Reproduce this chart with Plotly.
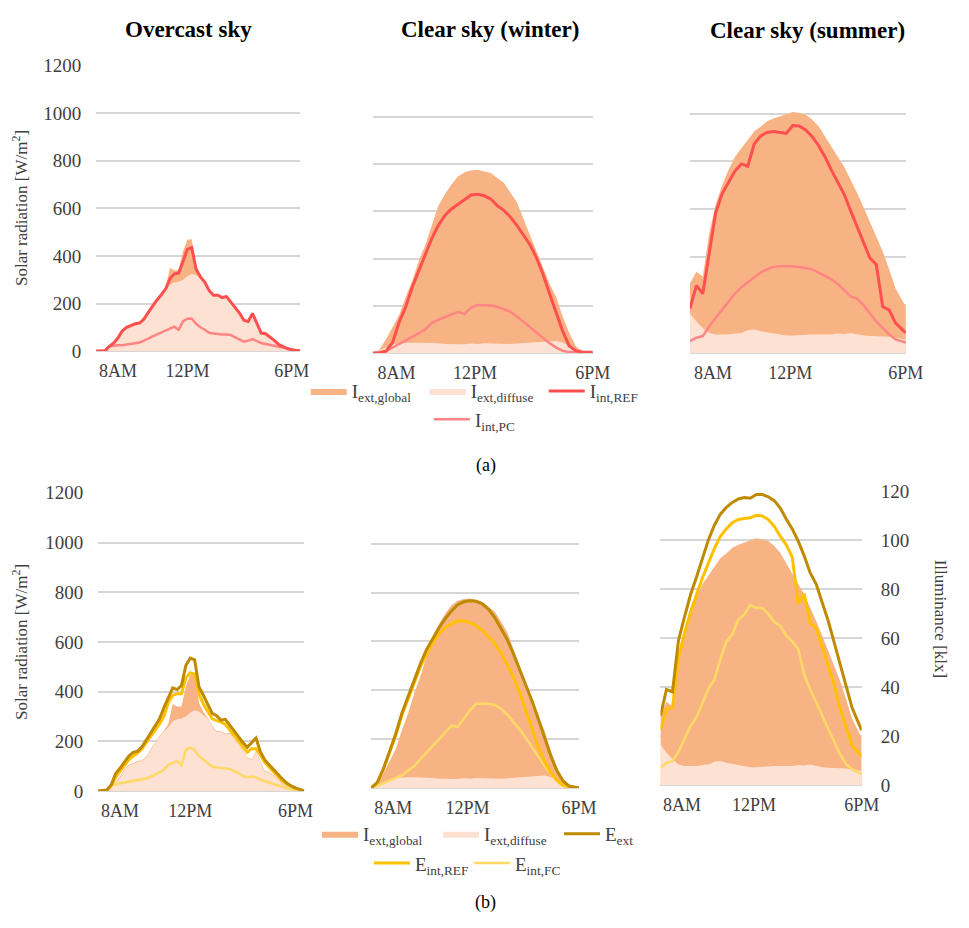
import plotly.graph_objects as go

W, H = 969, 928
SERIF = "Liberation Serif"

# ---------------- data ----------------
TIME_OVERCAST = ["06:45", "07:00", "07:15", "07:30", "07:45", "08:00", "08:15", "08:30", "08:45", "09:00",
                 "09:15", "09:30", "09:45", "10:00", "10:15", "10:30", "10:45", "11:00", "11:15", "11:30",
                 "11:45", "12:00", "12:15", "12:30", "12:45", "13:00", "13:15", "13:30", "13:45", "14:00",
                 "14:15", "14:30", "14:45", "15:00", "15:15", "15:30", "15:45", "16:00", "16:15", "16:30",
                 "16:45", "17:00", "17:15", "17:30", "17:45", "18:00", "18:15", "18:30"]
TIME_WINTER = ["06:48", "07:08", "07:28", "07:48", "08:08", "08:28", "08:48", "09:08", "09:28", "09:48",
               "10:08", "10:28", "10:48", "11:08", "11:28", "11:48", "12:08", "12:28", "12:48", "13:08",
               "13:28", "13:48", "14:08", "14:28", "14:48", "15:08", "15:28", "15:48", "16:08", "16:28",
               "16:48", "17:08", "17:28", "17:48", "18:00"]
TIME_SUMMER = ["06:48", "07:08", "07:28", "07:48", "08:08", "08:28", "08:48", "09:08", "09:28", "09:48",
               "10:08", "10:28", "10:48", "11:08", "11:28", "11:48", "12:08", "12:28", "12:48", "13:08",
               "13:28", "13:48", "14:08", "14:28", "14:48", "15:08", "15:28", "15:48", "16:08", "16:28",
               "16:48", "17:08", "17:28", "18:00"]

# overcast sky  [W/m2]
GLOBAL_OVERCAST = [0, 0, 2, 22, 36, 58, 90, 105, 112, 120, 123, 140, 168, 195, 220, 243, 268, 350, 340, 340,
                   420, 468, 470, 355, 318, 295, 262, 240, 240, 230, 234, 210, 187, 165, 135, 128, 163, 125, 80, 77,
                   64, 48, 31, 20, 13, 7, 3, 0]
DIFFUSE_OVERCAST = [0, 0, 0, 19, 33, 52, 87, 102, 109, 117, 120, 137, 165, 192, 217, 240, 255, 280, 288, 292,
                    300, 315, 325, 320, 305, 292, 259, 237, 237, 227, 231, 207, 184, 162, 132, 125, 160, 122, 77, 74,
                    61, 45, 28, 17, 10, 4, 1, 0]
I_REF_OVERCAST = [0, 0, 0, 20, 33, 55, 85, 100, 108, 115, 118, 135, 163, 190, 215, 237, 262, 305, 325, 328,
                  380, 428, 435, 345, 312, 290, 255, 235, 235, 225, 229, 205, 182, 160, 130, 125, 158, 120, 76, 73,
                  60, 45, 28, 18, 11, 6, 3, 0]
I_PC_OVERCAST = [0, 0, 0, 20, 24, 25, 25, 28, 33, 34, 36, 44, 54, 62, 70, 78, 88, 95, 103, 90,
                 125, 136, 137, 115, 100, 90, 77, 74, 71, 70, 70, 68, 58, 48, 40, 44, 50, 42, 34, 30,
                 25, 20, 18, 15, 10, 6, 3, 0]
# overcast sky  [klx]
E_EXT_OVERCAST = [0, 0.2, 0.4, 2.5, 7.0, 9.2, 11.5, 14.0, 15.5, 16.0, 17.8, 20.5, 23.2, 26.0, 29.0, 33.5, 37.5,
                  41.5, 40.8, 42.4, 50.5, 53.5, 52.8, 41.8, 38.5, 35.1, 31.2, 30.3, 28.5, 28.8, 26.4, 24.0, 21.8,
                  19.5, 17.6, 19.5, 21.3, 15.8, 12.5, 10.5, 8.5, 6.6, 4.8, 3.2, 2.0, 1.2, 0.6, 0]
E_REF_OVERCAST = [0, 0.1, 0.3, 2.0, 5.5, 8.0, 10.2, 12.5, 14.0, 15.2, 17.0, 19.5, 21.5, 24.0, 27.0, 30.0, 35.5,
                  38.5, 39.1, 39.1, 45.5, 47.6, 47.0, 39.0, 35.0, 32.0, 29.0, 28.3, 27.8, 26.8, 24.5, 22.5, 20.0,
                  18.0, 15.5, 17.0, 17.0, 14.5, 11.5, 9.5, 7.8, 5.8, 4.0, 2.8, 1.8, 1.0, 0.5, 0]
E_FC_OVERCAST = [0, 0.1, 0.3, 2.4, 2.7, 3.0, 3.2, 3.5, 3.8, 4.1, 4.4, 5.0, 5.7, 6.6, 7.5, 8.5, 10.5, 11.2,
                 12.0, 10.3, 16.5, 17.4, 16.5, 14.0, 12.6, 11.2, 9.8, 9.4, 9.2, 8.9, 8.8, 8.0, 7.2, 6.0, 5.5,
                 5.8, 5.5, 4.5, 3.8, 3.4, 2.8, 2.2, 1.5, 1.0, 0.6, 0.3, 0.1, 0]

# clear sky (winter)  [W/m2]
GLOBAL_WINTER = [0, 15, 58, 106, 160, 237, 306, 390, 458, 541, 624, 672, 714, 748, 766, 773, 776, 769, 762, 741,
                 721, 680, 638, 569, 500, 431, 362, 293, 237, 155, 86, 30, 5, 1, 0]
DIFFUSE_WINTER = [0, 12, 25, 35, 42, 44, 44, 44, 44, 42, 41, 38, 37, 37, 37, 40, 38, 41, 40, 38,
                  37, 38, 40, 42, 44, 44, 46, 49, 51, 45, 30, 10, 4, 2, 0]
I_REF_WINTER = [0, 1, 8, 45, 130, 195, 279, 348, 417, 486, 541, 583, 610, 631, 652, 669, 672, 666, 652, 624,
                604, 576, 541, 500, 459, 403, 334, 251, 168, 93, 30, 10, 5, 3, 3]
I_PC_WINTER = [0, 2, 8, 23, 37, 51, 65, 83, 100, 127, 141, 153, 162, 175, 165, 193, 203, 203, 201, 196,
               186, 175, 155, 132, 109, 86, 63, 42, 23, 10, 4, 3, 2, 1, 0]
# clear sky (winter)  [klx]
E_EXT_WINTER = [0, 2.2, 7.8, 15.0, 22.2, 30.7, 37.5, 44.7, 51.0, 56.8, 61.2, 65.6, 69.3, 72.4, 75.0, 76.2, 76.6,
                76.4, 75.3, 73.1, 69.7, 65.5, 60.8, 55.0, 48.7, 42.3, 35.7, 28.4, 20.8, 13.4, 7.2, 3.0, 0.8, 0.2, 0]
E_REF_WINTER = [0, 2.0, 7.5, 14.5, 21.5, 29.8, 36.5, 43.5, 49.7, 55.0, 59.5, 63.3, 65.6, 67.3, 68.3, 68.3, 67.7,
                66.4, 64.5, 62.0, 59.0, 55.3, 50.5, 45.5, 39.0, 31.8, 24.0, 16.8, 11.0, 6.5, 3.3, 1.2, 0.4, 0.1, 0]
E_FC_WINTER = [0, 0.8, 2.0, 3.0, 4.3, 5.2, 7.2, 9.0, 11.8, 14.5, 17.0, 19.8, 22.5, 25.5, 25.0, 28.5, 31.8, 34.5,
               34.5, 34.5, 34.0, 32.5, 30.0, 27.0, 24.0, 20.5, 17.0, 13.0, 9.2, 6.0, 2.8, 1.0, 0.3, 0, 0]

# clear sky (summer)  [W/m2]
GLOBAL_SUMMER = [290, 340, 320, 500, 620, 700, 765, 819, 855, 890, 925, 945, 968, 980, 990, 1000, 1007, 1002,
                 996, 975, 948, 905, 860, 820, 778, 725, 669, 610, 547, 485, 424, 350, 270, 193]
DIFFUSE_SUMMER = [166, 132, 105, 84, 78, 78, 78, 82, 84, 95, 98, 91, 87, 84, 78, 73, 73, 73, 76, 78,
                  78, 78, 78, 82, 80, 84, 78, 73, 71, 71, 71, 68, 64, 57]
I_REF_SUMMER = [186, 282, 248, 410, 585, 665, 715, 760, 790, 780, 873, 907, 921, 925, 921, 917, 950, 948, 932,
                905, 867, 820, 765, 717, 663, 595, 527, 460, 397, 370, 193, 180, 125, 84]
I_PC_SUMMER = [50, 64, 71, 112, 146, 180, 214, 248, 275, 295, 316, 336, 350, 359, 363, 363, 362, 359, 356, 350,
               336, 322, 309, 289, 261, 237, 227, 200, 166, 132, 105, 78, 57, 44]
# clear sky (summer)  [klx]
E_EXT_SUMMER = [28.3, 39.0, 38.0, 59.0, 68.5, 77.5, 84.8, 92.5, 100.0, 106.0, 110.5, 113.3, 115.3, 116.7, 117.3,
                117.0, 118.5, 118.5, 117.6, 116.0, 113.0, 108.5, 104.5, 99.5, 93.5, 86.5, 82.0, 74.5, 67.0, 58.2,
                49.3, 40.5, 31.5, 22.3]
E_REF_SUMMER = [22.3, 31.0, 31.6, 52.0, 62.0, 70.5, 77.5, 84.5, 90.5, 96.5, 101.5, 104.5, 107.0, 108.3, 108.7,
                109.0, 110.0, 109.8, 108.3, 105.5, 101.5, 98.0, 93.0, 74.0, 78.0, 66.0, 64.0, 56.0, 48.5, 41.0,
                31.0, 23.0, 16.0, 11.7]
E_FC_SUMMER = [7.0, 9.0, 9.7, 13.5, 18.8, 24.0, 27.6, 33.4, 39.3, 43.0, 51.5, 58.5, 61.5, 67.5, 69.6, 73.5, 72.2,
               72.2, 69.8, 66.5, 65.0, 61.0, 58.5, 55.5, 45.0, 39.0, 34.0, 28.5, 23.0, 17.5, 12.5, 8.5, 6.5, 4.4]

PANEL_TITLES = ["Overcast sky", "Clear sky (winter)", "Clear sky (summer)"]
X_TICKS = ["08:00", "12:00", "18:00"]
X_TICK_LABELS = ["8AM", "12PM", "6PM"]
RAD_TICKS = [0, 200, 400, 600, 800, 1000, 1200]
LUX_TICKS = [0, 20, 40, 60, 80, 100, 120]

NAMES = {
    "glob": "I<sub>ext,global</sub>",
    "diff": "I<sub>ext,diffuse</sub>",
    "iref": "I<sub>int,REF</sub>",
    "ipc": "I<sub>int,PC</sub>",
    "eext": "E<sub>ext</sub>",
    "eref": "E<sub>int,REF</sub>",
    "efc": "E<sub>int,FC</sub>",
}


def hours(ts):
    return [int(s[:2]) + int(s[3:]) / 60 for s in ts]


T_O, T_W, T_S = hours(TIME_OVERCAST), hours(TIME_WINTER), hours(TIME_SUMMER)

# ---------------- styles ----------------
C_GLOB = "#F8B384"
C_DIFF = "#FDE1D3"
C_IREF = "#FF4F4F"
C_IPC = "#FF8585"
C_EEXT = "#BF8A00"
C_EREF = "#FFC000"
C_EFC = "#FFD966"
GRID = "#D6D6D6"
TXT = "#404040"

fig = go.Figure()


def area(x, y, color, key, xa, ya, show, legend):
    fig.add_trace(go.Scatter(x=x, y=y, mode="lines", fill="tozeroy", fillcolor=color,
                             line=dict(width=0, color=color), name=NAMES[key], xaxis=xa, yaxis=ya,
                             showlegend=show, legend=legend, hoverinfo="skip"))


def line(x, y, color, width, key, xa, ya, show, legend, rank=1000):
    fig.add_trace(go.Scatter(x=x, y=y, mode="lines", line=dict(width=width, color=color),
                             name=NAMES[key], xaxis=xa, yaxis=ya, showlegend=show, legend=legend,
                             legendrank=rank, hoverinfo="skip"))


top = [(T_O, GLOBAL_OVERCAST, DIFFUSE_OVERCAST, I_PC_OVERCAST, I_REF_OVERCAST),
       (T_W, GLOBAL_WINTER, DIFFUSE_WINTER, I_PC_WINTER, I_REF_WINTER),
       (T_S, GLOBAL_SUMMER, DIFFUSE_SUMMER, I_PC_SUMMER, I_REF_SUMMER)]
for i, (t, g, d, pc, ref) in enumerate(top):
    n = i + 1
    xa, ya = f"x{n}", f"y{n}"
    show = i == 0
    area(t, g, C_GLOB, "glob", xa, ya, show, "legend")
    area(t, d, C_DIFF, "diff", xa, ya, show, "legend")
    line(t, pc, C_IPC, 2.5, "ipc", xa, ya, show, "legend2")
    line(t, ref, C_IREF, 3, "iref", xa, ya, show, "legend")

bottom = [(T_O, GLOBAL_OVERCAST, DIFFUSE_OVERCAST, E_FC_OVERCAST, E_REF_OVERCAST, E_EXT_OVERCAST),
          (T_W, GLOBAL_WINTER, DIFFUSE_WINTER, E_FC_WINTER, E_REF_WINTER, E_EXT_WINTER),
          (T_S, GLOBAL_SUMMER, DIFFUSE_SUMMER, E_FC_SUMMER, E_REF_SUMMER, E_EXT_SUMMER)]
for i, (t, g, d, fc, eref, eext) in enumerate(bottom):
    n = i + 4
    xa, ya, yl = f"x{n}", f"y{n}", f"y{n + 3}"
    show = i == 0
    area(t, g, C_GLOB, "glob", xa, ya, show, "legend3")
    area(t, d, C_DIFF, "diff", xa, ya, show, "legend3")
    line(t, fc, C_EFC, 2.5, "efc", xa, yl, show, "legend4", rank=2)
    line(t, eref, C_EREF, 3, "eref", xa, yl, show, "legend4", rank=1)
    line(t, eext, C_EEXT, 3, "eext", xa, yl, show, "legend3")

# ---------------- layout ----------------
PANELS = [(98, 306, 57, 349), (380, 604, 61, 351), (703, 923, 57, 351),
          (100, 310, 494, 799), (378, 590, 496, 796), (673, 878, 492, 793)]
XRANGES = [(T_O[0], T_O[-1]), (T_W[0], T_W[-1]), (T_S[0], T_S[-1])] * 2

layout = dict(width=W, height=H, margin=dict(l=0, r=0, t=0, b=0),
              paper_bgcolor="white", plot_bgcolor="rgba(0,0,0,0)",
              font=dict(family=SERIF, color=TXT, size=19), hovermode=False)

ytick_font = dict(family=SERIF, size=19, color=TXT)
xtick_font = dict(family=SERIF, size=18, color=TXT)
for i, (x0, x1, y0, y1) in enumerate(PANELS):
    n = i + 1
    layout[f"xaxis{n}"] = dict(domain=[x0 / W, x1 / W], anchor=f"y{n}", range=list(XRANGES[i]),
                               tickvals=hours(X_TICKS), ticktext=X_TICK_LABELS, showgrid=False,
                               zeroline=False, showline=False, ticks="", tickfont=xtick_font,
                               ticklabelstandoff=7, fixedrange=True)
    layout[f"yaxis{n}"] = dict(domain=[1 - y1 / H, 1 - y0 / H], anchor=f"x{n}", range=[0, 1200],
                               tickvals=RAD_TICKS, showticklabels=n in (1, 4), showgrid=True,
                               gridcolor=GRID, gridwidth=1.5, zeroline=True, zerolinecolor=GRID,
                               zerolinewidth=1.5, showline=False, ticks="", tickfont=ytick_font,
                               ticklabelstandoff=14, fixedrange=True)
for n in (4, 5, 6):
    layout[f"yaxis{n + 3}"] = dict(overlaying=f"y{n}", anchor=f"x{n}", side="right", range=[0, 120],
                                   tickvals=LUX_TICKS, showgrid=False, zeroline=False, showline=False,
                                   ticks="", tickfont=ytick_font, ticklabelstandoff=18,
                                   visible=(n == 6), fixedrange=True)

leg = dict(orientation="h", xanchor="left", yanchor="middle", bgcolor="rgba(0,0,0,0)",
           font=dict(family=SERIF, size=19, color=TXT), itemwidth=36, entrywidthmode="pixels",
           tracegroupgap=0, itemclick=False, itemdoubleclick=False)
layout["legend"] = dict(leg, x=311.5 / W, y=1 - 390 / H, entrywidth=68)
layout["legend2"] = dict(leg, x=437 / W, y=1 - 419 / H, entrywidth=68)
layout["legend3"] = dict(leg, x=323 / W, y=1 - 843 / H, entrywidth=70)
layout["legend4"] = dict(leg, x=376 / W, y=1 - 873 / H, entrywidth=49)

ann = []
for title, cx, cy in zip(PANEL_TITLES, (192, 499, 823), (20, 20, 21)):
    ann.append(dict(text=f"<b>{title}</b>", x=cx / W, y=1 - cy / H, xref="paper", yref="paper",
                    showarrow=False, font=dict(family=SERIF, size=23, color="black"),
                    xanchor="center", yanchor="middle"))
for lab, cy in (("(a)", 466), ("(b)", 913)):
    ann.append(dict(text=lab, x=495 / W, y=1 - cy / H, xref="paper", yref="paper", showarrow=False,
                    font=dict(family=SERIF, size=18, color="black"), xanchor="center", yanchor="middle"))
for cy in (203, 647):
    ann.append(dict(text="Solar radiation [W/m<sup>2</sup>]", x=21 / W, y=1 - cy / H, xref="paper",
                    yref="paper", showarrow=False, textangle=-90,
                    font=dict(family=SERIF, size=17, color=TXT), xanchor="center", yanchor="middle"))
ann.append(dict(text="Illuminance [klx]", x=958 / W, y=1 - 623 / H, xref="paper", yref="paper",
                showarrow=False, textangle=90, font=dict(family=SERIF, size=17, color=TXT),
                xanchor="center", yanchor="middle"))
layout["annotations"] = ann

fig.update_layout(layout)
fig.write_html("out.html", config={"displayModeBar": False})
